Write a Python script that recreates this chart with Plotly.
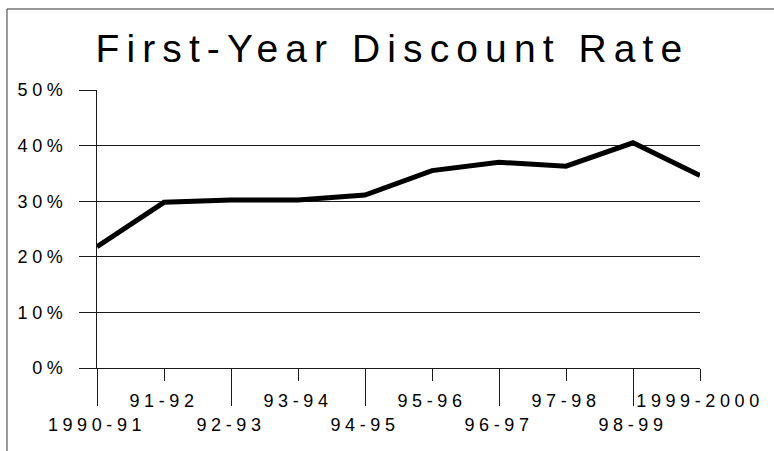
import plotly.graph_objects as go

# Academic years and the first-year discount rate (%) for each
years = ["1990-91", "91-92", "92-93", "93-94", "94-95",
         "95-96", "96-97", "97-98", "98-99", "1999-2000"]
discount_rate = [21.8, 29.8, 30.2, 30.2, 31.1, 35.5, 37.0, 36.3, 40.5, 34.6]

y_ticks = [0, 10, 20, 30, 40, 50]
y_tick_labels = [f"{v}%" for v in y_ticks]

FONT = "Arial, 'Liberation Sans', sans-serif"
INK = "#1a1a1a"

fig = go.Figure()
fig.add_trace(go.Scatter(
    x=years, y=discount_rate, mode="lines",
    line=dict(color="black", width=5),
    hoverinfo="skip", showlegend=False,
))
# carrier trace for the second (staggered-label) category axis
fig.add_trace(go.Scatter(
    x=years, y=discount_rate, mode="lines", xaxis="x2",
    line=dict(color="rgba(0,0,0,0)", width=0),
    hoverinfo="skip", showlegend=False,
))

cat_common = dict(
    type="category", categoryorder="array", categoryarray=years,
    range=[0, len(years) - 1], showgrid=False, zeroline=False,
    ticks="outside", tickcolor=INK, tickwidth=1,
    tickfont=dict(family=FONT, size=18, color="black"),
    fixedrange=True,
)

fig.update_layout(
    width=774, height=451,
    margin=dict(l=97, r=74, t=90, b=83, autoexpand=False),
    paper_bgcolor="white", plot_bgcolor="white",
    title=dict(
        text="First-Year Discount Rate",
        x=0.49, xref="paper", xanchor="center",
        y=1 - 48 / 451, yref="container", yanchor="middle",
        font=dict(family=FONT, size=39, color="black"),
    ),
    xaxis=dict(
        **cat_common,
        tickvals=years[0::2], ticklen=37,
        showline=True, linecolor=INK, linewidth=1,
        ticklabelstandoff=3,
    ),
    xaxis2=dict(
        **cat_common,
        overlaying="x", anchor="y", side="bottom",
        tickvals=years[1::2], ticklen=12,
        showline=False,
        ticklabelstandoff=4,
    ),
    yaxis=dict(
        range=[0, 50], tickvals=y_ticks, ticktext=y_tick_labels,
        showgrid=True, gridcolor=INK, gridwidth=1,
        zeroline=False, showline=True, linecolor=INK, linewidth=1,
        ticks="outside", ticklen=17, tickcolor=INK, tickwidth=1,
        tickfont=dict(family=FONT, size=18, color="black"),
        ticklabelstandoff=8, fixedrange=True,
    ),
    shapes=[dict(
        type="rect", xref="paper", yref="paper",
        x0=-0.1493, x1=1.2, y0=-0.4, y1=1.2914,
        line=dict(color="#333333", width=1), layer="below",
    )],
)

# widen the tracking of the chart lettering
spacing_js = """
var gd = document.getElementById('{plot_id}');
function track() {
  gd.querySelectorAll('.gtitle').forEach(function (t) {
    t.style.letterSpacing = '7.1px';
  });
  gd.querySelectorAll('.xtick text, .x2tick text, .ytick text').forEach(function (t) {
    t.style.letterSpacing = '4.6px';
  });
}
track();
gd.on('plotly_afterplot', track);
"""

fig.write_html("out.html", post_script=spacing_js, config={"displayModeBar": False})
